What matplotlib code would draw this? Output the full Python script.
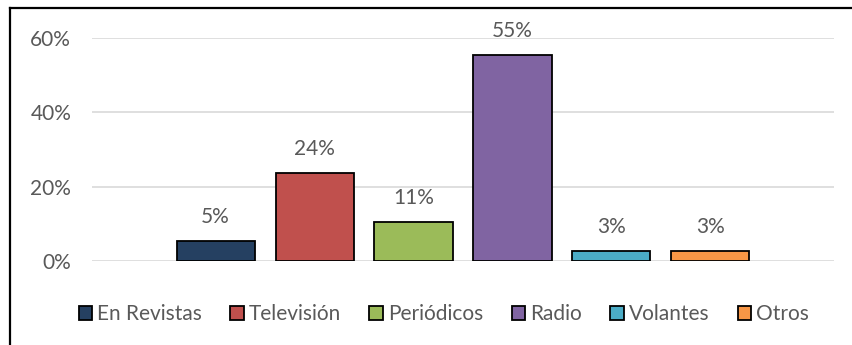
import matplotlib.pyplot as plt
from matplotlib.lines import Line2D
from matplotlib.patches import Patch

# data
categorias = ['En Revistas', 'Televisión', 'Periódicos', 'Radio', 'Volantes', 'Otros']
valores = [5.4, 23.7, 10.6, 55.4, 2.8, 2.8]
etiquetas = ['5%', '24%', '11%', '55%', '3%', '3%']
colores = ['#254061', '#C0504D', '#9BBB59', '#8064A2', '#4BACC6', '#F79646']
yticks = [0, 20, 40, 60]
ytick_labels = ['0%', '20%', '40%', '60%']

plt.rcParams['font.family'] = ['Lato', 'DejaVu Sans']
gris = '#595959'
fs = 15

fig = plt.figure(figsize=(8.52, 3.45), dpi=100)
ax = fig.add_axes([92 / 852, (345 - 261) / 345, 742 / 852, 223 / 345])

x = list(range(len(categorias)))
ax.bar(x, valores, width=0.79, color=colores, edgecolor='black', linewidth=1.3, zorder=3)
for xi, v, t in zip(x, valores, etiquetas):
    ax.annotate(t, (xi, v), xytext=(0, 10), textcoords='offset points',
                ha='center', va='bottom', fontsize=fs, color=gris)

ax.set_xlim(-1.25, 6.25)
ax.set_ylim(0, 60)
ax.set_yticks(yticks)
ax.set_yticklabels(ytick_labels, fontsize=fs, color=gris)
ax.set_xticks([])
ax.tick_params(axis='y', length=0, pad=15)
ax.grid(axis='y', color='#D9D9D9', linewidth=1.2, zorder=0)
for s in ax.spines.values():
    s.set_visible(False)

handles = [Patch(facecolor=c, edgecolor='black', linewidth=1.3) for c in colores]
fig.legend(handles, categorias, loc='center', bbox_to_anchor=(0.521, 1 - 314 / 345),
           ncol=6, frameon=False, fontsize=fs, handlelength=0.65, handleheight=0.65,
           handletextpad=0.25, columnspacing=1.35, labelcolor=gris)

# partial chart frame (top and left edges)
fig.add_artist(Line2D([10 / 852, 1.0], [1 - 8 / 345, 1 - 8 / 345], color='black', lw=1.6,
                      transform=fig.transFigure))
fig.add_artist(Line2D([10 / 852, 10 / 852], [0, 1 - 8 / 345], color='black', lw=1.6,
                      transform=fig.transFigure))

fig.savefig('out.png', dpi=100)
